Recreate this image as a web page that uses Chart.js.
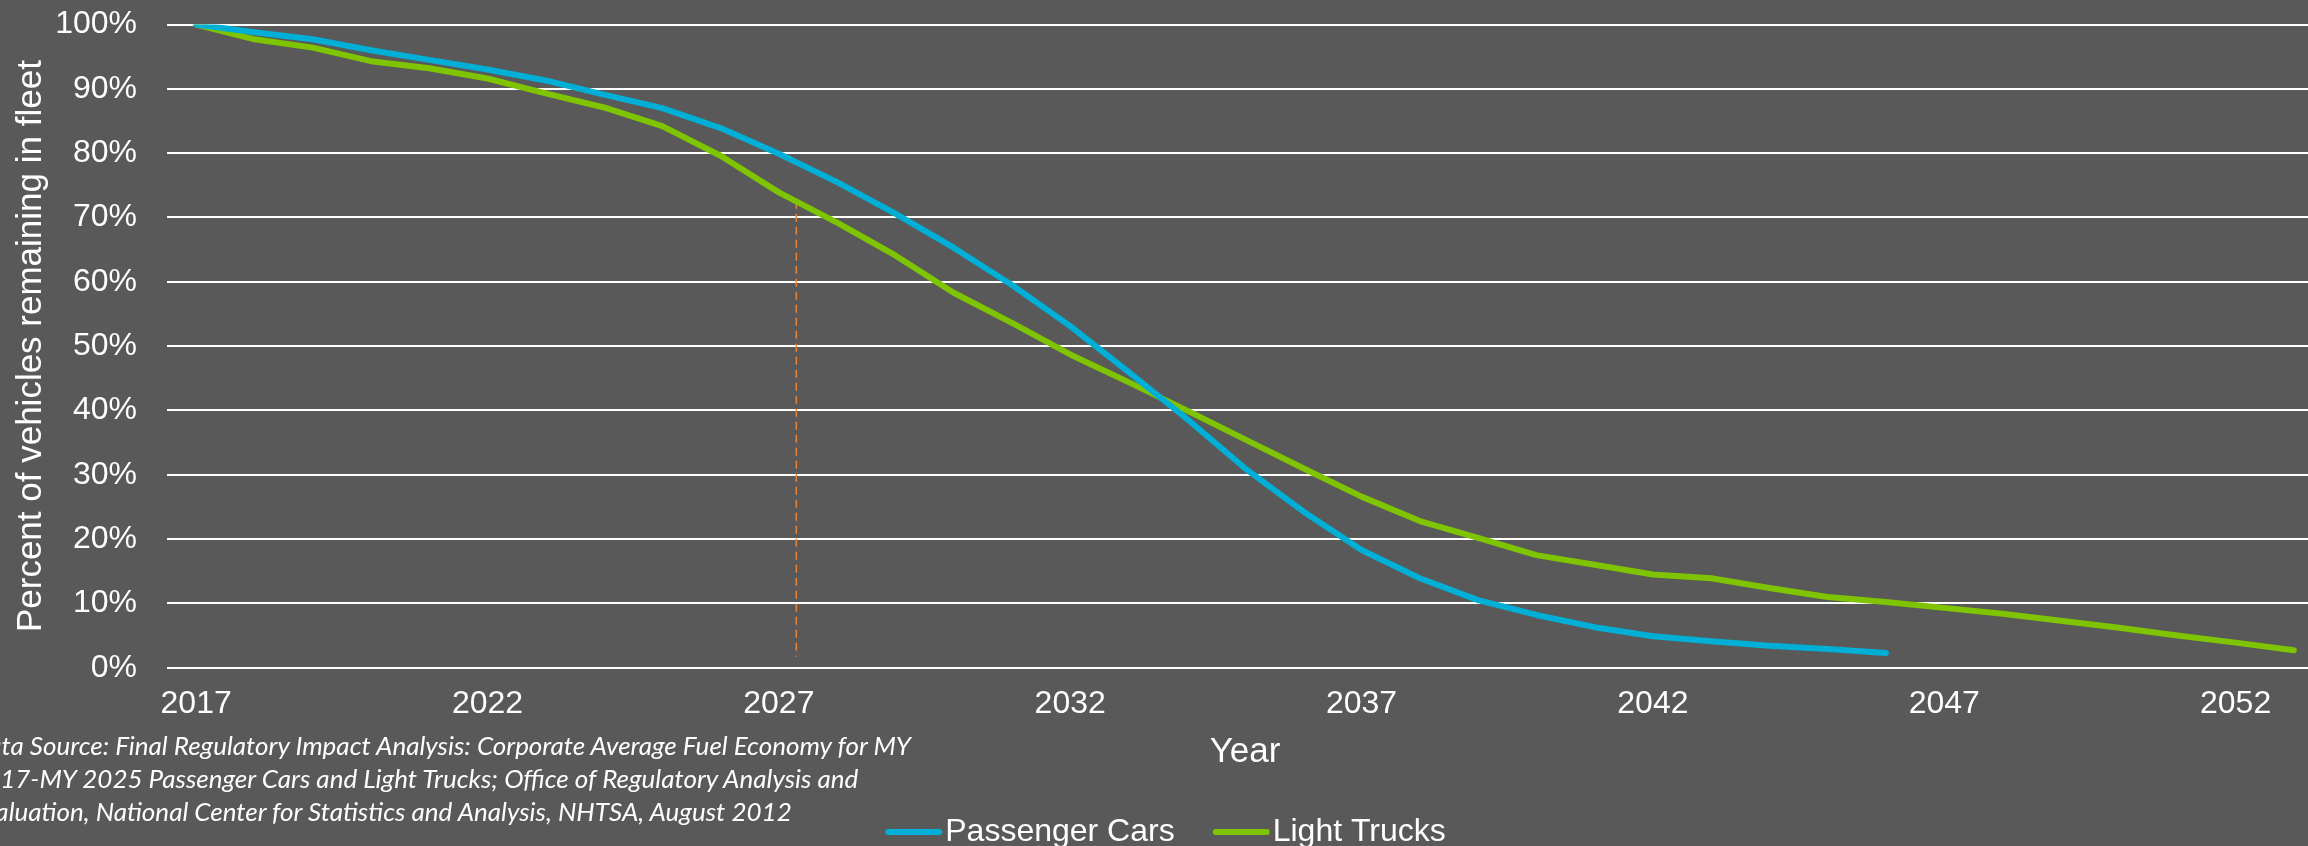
<!DOCTYPE html>
<html>
<head>
<meta charset="utf-8">
<title>Vehicle survival in fleet</title>
<script src="https://cdn.jsdelivr.net/npm/chart.js@4.4.1/dist/chart.umd.min.js"></script>
<style>
    html, body {
        margin: 0;
        padding: 0;
        background: #595959;
        overflow: hidden;
    }
    .frame {
        position: relative;
        width: 2308px;
        height: 846px;
        overflow: hidden;
        background: #595959;
    }
    #fleetChart {
        position: absolute;
        left: 0;
        top: 0;
    }
    .source-note {
        position: absolute;
        left: -30px;
        top: 729px;
        font-family: Lato, "Open Sans", sans-serif;
        font-style: italic;
        font-size: 26px;
        line-height: 33px;
        color: #ffffff;
        white-space: nowrap;
    }
</style>
</head>
<body>
<div class="frame">
    <canvas id="fleetChart" width="2340" height="860"></canvas>
    <div class="source-note">Data Source: Final Regulatory Impact Analysis: Corporate Average Fuel Economy for MY<br>2017-MY 2025 Passenger Cars and Light Trucks; Office of Regulatory Analysis and<br>Evaluation, National Center for Statistics and Analysis, NHTSA, August 2012</div>
</div>
<script>
// Model years on the category axis
const years = [
    2017, 2018, 2019, 2020, 2021, 2022, 2023, 2024, 2025, 2026,
    2027, 2028, 2029, 2030, 2031, 2032, 2033, 2034, 2035, 2036,
    2037, 2038, 2039, 2040, 2041, 2042, 2043, 2044, 2045, 2046,
    2047, 2048, 2049, 2050, 2051, 2052, 2053
];

// Percent of vehicles still in the fleet
const passengerCars = [
    100, 98.8, 97.7, 96.0, 94.5, 93.0, 91.3, 89.1, 87.0, 83.9,
    79.9, 75.5, 70.6, 65.3, 59.5, 53.1, 46.0, 38.7, 31.0, 24.3,
    18.3, 13.9, 10.5, 8.2, 6.3, 4.9, 4.1, 3.4, 2.9, 2.3
];
const lightTrucks = [
    100, 97.7, 96.4, 94.3, 93.2, 91.6, 89.3, 87.1, 84.2, 79.6,
    73.9, 69.2, 64.1, 58.3, 53.6, 48.7, 44.4, 40.0, 35.5, 31.0,
    26.6, 22.8, 20.2, 17.5, 16.0, 14.5, 13.9, 12.4, 11.0, 10.2,
    9.3, 8.4, 7.3, 6.2, 5.0, 3.9, 2.7
];

// Tick labels
const xTickYears = [2017, 2022, 2027, 2032, 2037, 2042, 2047, 2052];
const yTickValues = [0, 10, 20, 30, 40, 50, 60, 70, 80, 90, 100];

// Dashed marker (year, top %, bottom %)
const markerYear = 2027.3;
const markerTop = 72.6;
const markerBottom = 1.7;

const carBlue = '#00AFD6';
const truckGreen = '#7EC400';
const markerOrange = '#E8833A';
const textWhite = '#FFFFFF';

Chart.defaults.font.family = '"Liberation Sans", Arial, sans-serif';

// Draw the thin dashed vertical line behind the series
const markerLine = {
    id: 'markerLine',
    beforeDatasetsDraw(chart) {
        const { ctx, scales: { x, y } } = chart;
        const px = x.getPixelForValue(markerYear - years[0]);
        ctx.save();
        ctx.strokeStyle = markerOrange;
        ctx.lineWidth = 1.5;
        ctx.setLineDash([8, 5]);
        ctx.beginPath();
        ctx.moveTo(px, y.getPixelForValue(markerTop));
        ctx.lineTo(px, y.getPixelForValue(markerBottom));
        ctx.stroke();
        ctx.restore();
    }
};

// Legend swatches as short round-capped lines sitting right next to the text
const legendLines = {
    id: 'legendLines',
    afterDraw(chart) {
        const legend = chart.legend;
        if (!legend || !legend.legendHitBoxes) return;
        const { ctx } = chart;
        ctx.save();
        ctx.lineWidth = 6;
        ctx.lineCap = 'round';
        legend.legendItems.forEach((item, i) => {
            const box = legend.legendHitBoxes[i];
            const yMid = box.top + box.height / 2;
            ctx.strokeStyle = chart.data.datasets[item.datasetIndex].borderColor;
            ctx.beginPath();
            ctx.moveTo(box.left + 11, yMid);
            ctx.lineTo(box.left + 62, yMid);
            ctx.stroke();
        });
        ctx.restore();
    }
};

function seriesStyle(color) {
    return {
        borderColor: color,
        backgroundColor: color,
        borderWidth: 6,
        borderCapStyle: 'round',
        borderJoinStyle: 'round',
        pointRadius: 0,
        tension: 0,
        fill: false
    };
}

const ctx = document.getElementById('fleetChart').getContext('2d');
const fleetChart = new Chart(ctx, {
    type: 'line',
    data: {
        labels: years.map(String),
        datasets: [
            { label: 'Passenger Cars', data: passengerCars, ...seriesStyle(carBlue) },
            { label: 'Light Trucks', data: lightTrucks, ...seriesStyle(truckGreen) }
        ]
    },
    options: {
        responsive: false,
        devicePixelRatio: 1,
        animation: false,
        layout: {
            padding: { top: 24.5, right: 17, bottom: 2, left: 0 }
        },
        plugins: {
            legend: {
                position: 'bottom',
                labels: {
                    color: textWhite,
                    font: { size: 32 },
                    boxWidth: 52,
                    boxHeight: 1,
                    padding: 30,
                    generateLabels: (chart) => {
                        // keep the layout, hide the default box (drawn by legendLines)
                        const items = Chart.defaults.plugins.legend.labels.generateLabels(chart);
                        return items.map(item => ({
                            ...item,
                            fillStyle: 'rgba(0,0,0,0)',
                            strokeStyle: 'rgba(0,0,0,0)',
                            lineWidth: 0
                        }));
                    }
                }
            },
            tooltip: { enabled: false }
        },
        scales: {
            x: {
                offset: true,
                grid: { display: false },
                border: { display: false },
                ticks: {
                    color: textWhite,
                    font: { size: 32 },
                    autoSkip: false,
                    maxRotation: 0,
                    padding: 9,
                    callback: function(value, index) {
                        const year = years[index];
                        return xTickYears.includes(year) ? String(year) : '';
                    }
                },
                title: {
                    display: true,
                    text: 'Year',
                    color: textWhite,
                    font: { size: 35 },
                    padding: { top: 0, bottom: 13 }
                },
                afterFit: (scale) => { scale.height = 118.3; }
            },
            y: {
                min: 0,
                max: 100,
                grid: { color: textWhite, lineWidth: 2, drawTicks: false },
                border: { display: false },
                afterBuildTicks: (scale) => {
                    scale.ticks = yTickValues.map(v => ({ value: v }));
                },
                ticks: {
                    color: textWhite,
                    font: { size: 32 },
                    padding: 30,
                    callback: (value) => value + '%'
                },
                title: {
                    display: true,
                    text: 'Percent of vehicles remaining in fleet',
                    color: textWhite,
                    font: { size: 35 },
                    padding: { top: 10, bottom: 0 }
                },
                afterFit: (scale) => {
                    // fixed axis width; no extra room for the end labels
                    scale.width = 167;
                    scale.paddingTop = 0;
                    scale.paddingBottom = 0;
                }
            }
        }
    },
    plugins: [markerLine, legendLines]
});
</script>
</body>
</html>
